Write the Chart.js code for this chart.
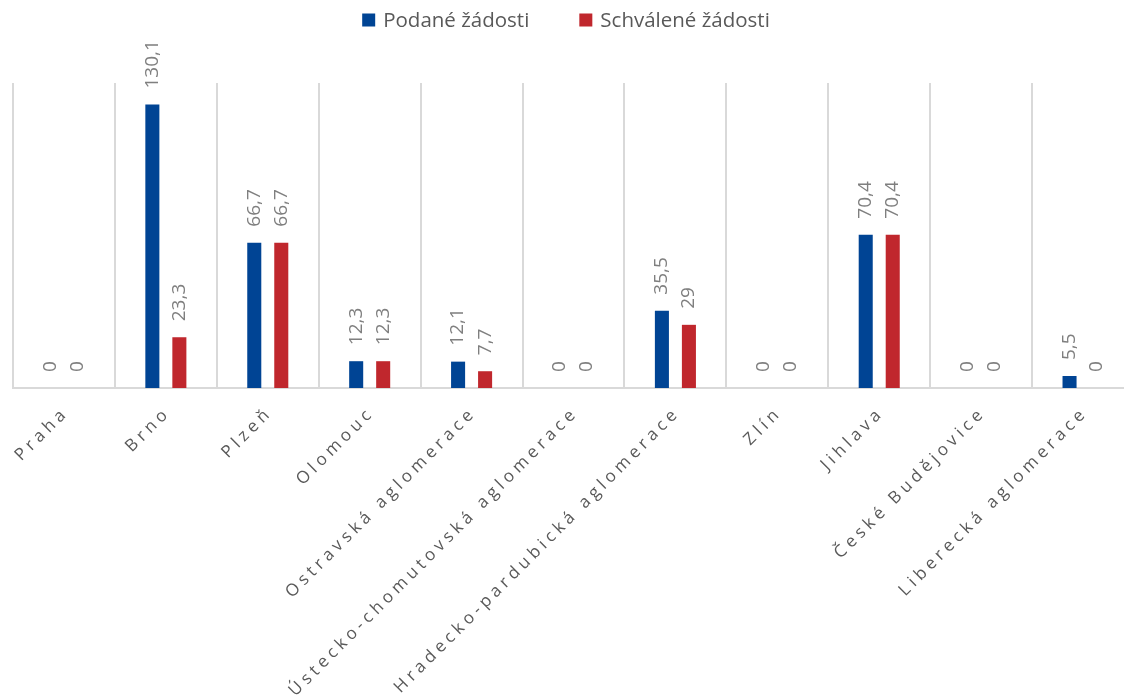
<!DOCTYPE html>
<html>
<head>
    <title>Podané a schválené žádosti</title>
    <script src="https://cdn.jsdelivr.net/npm/chart.js"></script>
    <style>
        body {
            margin: 0;
            background-color: #ffffff;
            overflow: hidden;
        }
        #wrap {
            width: 1136px; /* plot runs a bit past the right edge, like the original */
            height: 696px;
        }
    </style>
</head>
<body>
    <div id="wrap"><canvas id="zadostiChart"></canvas></div>

    <script>
        var regions = ["Praha", "Brno", "Plzeň", "Olomouc", "Ostravská aglomerace", "Ústecko-chomutovská aglomerace",
            "Hradecko-pardubická aglomerace", "Zlín", "Jihlava", "České Budějovice", "Liberecká aglomerace"];
        var podane = [0, 130.1, 66.7, 12.3, 12.1, 0, 35.5, 0, 70.4, 0, 5.5];
        var schvalene = [0, 23.3, 66.7, 12.3, 7.7, 0, 29, 0, 70.4, 0, 0];
        var seriesNames = ["Podané žádosti", "Schválené žádosti"];
        var seriesColors = ["#004494", "#c0272d"];

        var fontFamily = "'Open Sans', sans-serif";

        function fmt(v) {
            return String(v).replace('.', ',');
        }

        // value labels above the bars, rotated
        var valueLabels = {
            id: 'valueLabels',
            afterDatasetsDraw: function(chart) {
                var ctx = chart.ctx;
                chart.data.datasets.forEach(function(ds, di) {
                    var meta = chart.getDatasetMeta(di);
                    meta.data.forEach(function(bar, i) {
                        ctx.save();
                        ctx.translate(bar.x, bar.y - 16);
                        ctx.rotate(-Math.PI / 2);
                        ctx.font = "19px " + fontFamily;
                        ctx.fillStyle = '#7f7f7f';
                        ctx.textAlign = 'left';
                        ctx.textBaseline = 'middle';
                        ctx.fillText(fmt(ds.data[i]), 0, 0);
                        ctx.restore();
                    });
                });
            }
        };

        // category labels at 45 degrees with wide letter spacing
        var categoryLabels = {
            id: 'categoryLabels',
            afterDraw: function(chart) {
                var ctx = chart.ctx;
                var xScale = chart.scales.x;
                var bottom = chart.chartArea.bottom;
                chart.data.labels.forEach(function(label, i) {
                    var cx = xScale.getPixelForValue(i);
                    ctx.save();
                    ctx.translate(cx + 2, bottom + 22);
                    ctx.rotate(-Math.PI / 4);
                    ctx.font = "17px " + fontFamily;
                    ctx.letterSpacing = '4.3px';
                    ctx.fillStyle = '#595959';
                    ctx.textAlign = 'right';
                    ctx.textBaseline = 'middle';
                    ctx.fillText(label, 0, 0);
                    ctx.restore();
                });
            }
        };

        // legend at the top, drawn by hand so the spacing can match
        var topLegend = {
            id: 'topLegend',
            afterDraw: function(chart) {
                var ctx = chart.ctx;
                ctx.save();
                ctx.font = "20.5px " + fontFamily;
                var box = 13, gap = 8, itemGap = 50;
                var widths = chart.data.datasets.map(function(ds) { return ctx.measureText(ds.label).width; });
                var total = widths[0] + widths[1] + 2 * (box + gap) + itemGap;
                var x = 566 - total / 2;
                var y = 20;
                chart.data.datasets.forEach(function(ds, di) {
                    ctx.fillStyle = ds.backgroundColor;
                    ctx.fillRect(x, y - box / 2, box, box);
                    x += box + gap;
                    ctx.fillStyle = '#595959';
                    ctx.textAlign = 'left';
                    ctx.textBaseline = 'middle';
                    ctx.fillText(ds.label, x, y + 1);
                    x += widths[di] + itemGap;
                });
                ctx.restore();
            }
        };

        var ctx = document.getElementById('zadostiChart').getContext('2d');
        new Chart(ctx, {
            type: 'bar',
            plugins: [valueLabels, categoryLabels, topLegend],
            data: {
                labels: regions,
                datasets: [
                    { label: seriesNames[0], data: podane, backgroundColor: seriesColors[0] },
                    { label: seriesNames[1], data: schvalene, backgroundColor: seriesColors[1] }
                ]
            },
            options: {
                responsive: true,
                maintainAspectRatio: false,
                animation: false,
                datasets: {
                    bar: {
                        categoryPercentage: 0.53,
                        barPercentage: 0.52
                    }
                },
                layout: {
                    padding: { top: 83, left: 13, right: 2, bottom: 308 }
                },
                plugins: {
                    legend: { display: false },
                    tooltip: { enabled: false }
                },
                scales: {
                    x: {
                        grid: {
                            display: true,
                            offset: true,
                            color: '#d9d9d9',
                            lineWidth: 2,
                            drawTicks: false
                        },
                        border: { color: '#d9d9d9', width: 2 },
                        ticks: { display: false }
                    },
                    y: {
                        display: false,
                        min: 0,
                        max: 140
                    }
                }
            }
        });
    </script>
</body>
</html>
